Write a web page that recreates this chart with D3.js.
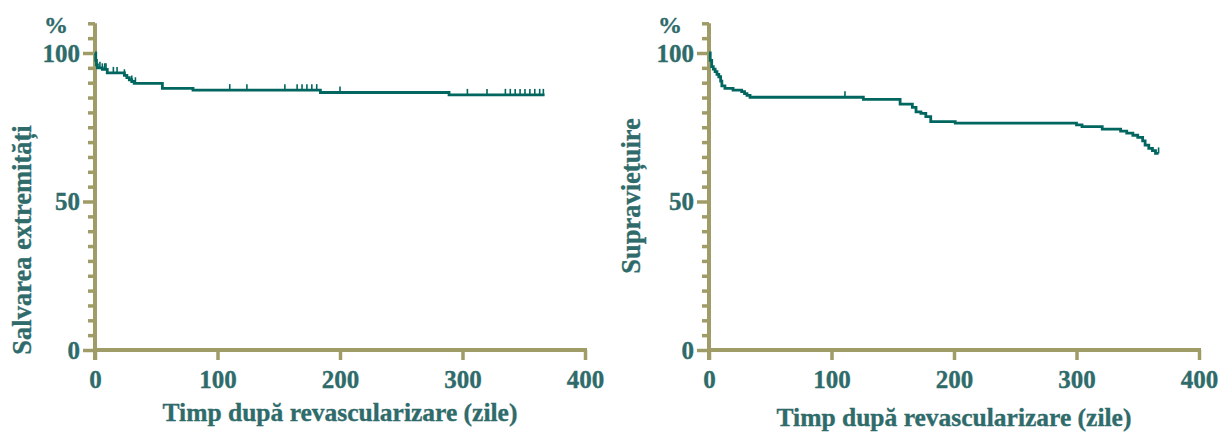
<!DOCTYPE html>
<html>
<head>
<meta charset="utf-8">
<script src="https://cdn.jsdelivr.net/npm/d3@7"></script>
<style>
  body { margin: 0; background: #fff; }
  svg text { font-family: "Liberation Serif", "Times New Roman", serif; font-weight: bold; fill: #2e6b6a;
             stroke: #2e6b6a; stroke-width: 0.35px; }
</style>
</head>
<body>
<div class="chart"></div>
<script>
// limb salvage (left panel)
var limbTimes = [0, 0.6, 1.2, 2, 6, 10, 24, 26, 28, 30, 32, 55, 80, 184, 289];
var limbSurv  = [100, 97.5, 96, 95, 94.5, 93.3, 92.5, 91.7, 91, 90.4, 89.8, 88.1, 87.5, 86.7, 85.9];
var limbCensored = [4, 6, 8, 9, 15, 18, 24, 30, 33, 110, 124, 155, 165, 169, 173, 177, 181, 200,
                    304, 320, 335, 339, 343, 347, 351, 355, 359, 363, 366];
var limbEnd = 367;

// survival (right panel)
var survTimes = [0, 1, 2.2, 3.5, 5, 6.5, 8, 9.5, 10.5, 13, 19.6, 26.7, 29, 31, 33.5,
                 126, 156, 166, 169, 173, 177, 181, 201,
                 300, 304.5, 321, 336, 341, 346, 350, 354, 356, 359, 362, 364.5];
var survValues = [100, 97.5, 95.4, 94.6, 93.7, 92.8, 92, 90.5, 88.9, 88.1, 87.5, 87.0, 86.3, 85.7, 85.1,
                  84.4, 82.8, 81.7, 80.2, 79.7, 78.6, 76.9, 76.4,
                  75.8, 75.2, 74.4, 73.7, 73.0, 72.3, 71.6, 70.4, 69.0, 67.9, 67.1, 66.2];
var survCensored = [111, 367];
var survEnd = 367;

var xTicks = [0, 100, 200, 300, 400];
var yTicks = [0, 50, 100];
var xTitle = "Timp după revascularizare (zile)";

var axisColor = "#a09c68",
    lineColor = "#00665f",
    textColor = "#2e6b6a";

var width = 1222, height = 432;

var svg = d3.select(".chart").append("svg")
    .attr("width", width)
    .attr("height", height);

drawPanel({left: 95, right: 585, yLabel: "Salvarea extremități", yLabelX: 22, yLabelY: 240, xTitleY: 421,
           times: limbTimes, surv: limbSurv, censored: limbCensored, end: limbEnd});
drawPanel({left: 709, right: 1199, yLabel: "Supraviețuire", yLabelX: 631, yLabelY: 196, xTitleY: 426,
           times: survTimes, surv: survValues, censored: survCensored, end: survEnd});

function drawPanel(p) {
    var bottom = 350;

    const xScale = d3.scaleLinear().domain([0, 400]).range([p.left, p.right]);
    const yScale = d3.scaleLinear().domain([0, 110]).range([bottom, bottom - 110 * 2.97]);

    const g = svg.append("g");

    // minor y ticks every 5
    const minor = d3.range(5, 111, 5).filter(v => yTicks.indexOf(v) < 0);
    const yMinor = g.append("g")
        .attr("transform", `translate(${p.left}, 0)`)
        .call(d3.axisLeft(yScale).tickValues(minor).tickSize(7).tickFormat(""));
    yMinor.select(".domain").remove();

    const yAxisGroup = g.append("g")
        .attr("class", "axis y-axis")
        .attr("transform", `translate(${p.left}, 0)`)
        .call(d3.axisLeft(yScale).tickValues(yTicks).tickSize(12).tickPadding(3));
    yAxisGroup.select(".domain").remove();

    const xAxisGroup = g.append("g")
        .attr("class", "axis x-axis")
        .attr("transform", `translate(0, ${bottom})`)
        .call(d3.axisBottom(xScale).tickValues(xTicks).tickSize(10).tickPadding(10));
    xAxisGroup.select(".domain").remove();

    g.selectAll(".tick line")
        .attr("stroke", axisColor)
        .attr("stroke-width", 3.5);
    g.selectAll(".tick text")
        .attr("font-size", 25)
        .attr("fill", textColor);

    // axis lines
    g.append("line")
        .attr("x1", p.left).attr("x2", p.left)
        .attr("y1", yScale(110)).attr("y2", bottom + 10)
        .attr("stroke", axisColor).attr("stroke-width", 4);
    g.append("line")
        .attr("x1", p.left - 2).attr("x2", p.right + 2)
        .attr("y1", bottom).attr("y2", bottom)
        .attr("stroke", axisColor).attr("stroke-width", 4);

    g.append("text")
        .attr("x", p.left - 27)
        .attr("y", yScale(110) + 10)
        .attr("text-anchor", "end")
        .attr("font-size", 24)
        .text("%");

    g.append("text")
        .attr("x", (p.left + p.right) / 2)
        .attr("y", p.xTitleY)
        .attr("text-anchor", "middle")
        .attr("font-size", 25.5)
        .text(xTitle);

    g.append("text")
        .attr("transform", `translate(${p.yLabelX}, ${p.yLabelY}) rotate(-90)`)
        .attr("text-anchor", "middle")
        .attr("dy", "0.35em")
        .attr("font-size", 26.5)
        .text(p.yLabel);

    // Kaplan-Meier step curve
    const pts = p.times.map((t, i) => [t, p.surv[i]]);
    pts.push([p.end, p.surv[p.surv.length - 1]]);

    const line = d3.line()
        .x(d => xScale(d[0]))
        .y(d => yScale(d[1]))
        .curve(d3.curveStepAfter);

    g.append("path")
        .datum(pts)
        .attr("fill", "none")
        .attr("stroke", lineColor)
        .attr("stroke-width", 2.8)
        .attr("d", line);

    // censor marks
    const survAt = t => p.surv[Math.max(0, d3.bisectRight(p.times, t) - 1)];
    g.append("g")
        .selectAll("line")
        .data(p.censored)
        .enter()
        .append("line")
        .attr("x1", d => xScale(d)).attr("x2", d => xScale(d))
        .attr("y1", d => yScale(survAt(d)))
        .attr("y2", d => yScale(survAt(d)) - 6)
        .attr("stroke", lineColor)
        .attr("stroke-width", 1.6);
}
</script>
</body>
</html>
